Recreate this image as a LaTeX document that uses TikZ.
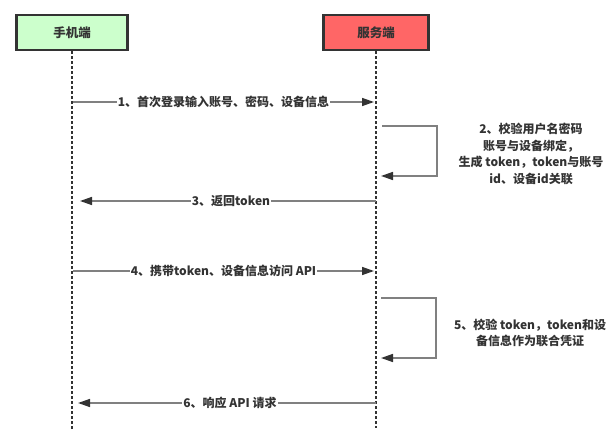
\documentclass[tikz,border=0pt]{standalone}
\usepackage{fontspec}
\setmainfont{Noto Sans CJK SC}
\usetikzlibrary{arrows.meta}
\definecolor{lg}{HTML}{CCFFCC}
\definecolor{lr}{HTML}{FF6666}
\definecolor{dk}{HTML}{333333}
\definecolor{ln}{HTML}{808080}
\begin{document}
\begin{tikzpicture}[x=1pt,y=-1pt,
  actor/.style={draw=dk, line width=2.2pt, minimum height=35pt, inner sep=0pt,
    font=\fontsize{12.5}{14}\selectfont\bfseries, text=dk},
  life/.style={draw=dk, line width=1.8pt, dash pattern=on 2.5pt off 2.5pt},
  msg/.style={draw=ln, line width=1.5pt, -{Triangle[length=12pt,width=8pt,color=dk]}},
  lbl/.style={fill=white, inner sep=1pt, text=dk, font=\fontsize{12}{16}\selectfont\bfseries},
  note/.style={text=dk, align=center, inner sep=0pt, font=\fontsize{12}{16.5}\selectfont\bfseries}
]
\useasboundingbox (0,0) rectangle (615,443);
\node[actor, fill=lg, minimum width=111pt] (c) at (72,32.5) {手机端};
\node[actor, fill=lr, minimum width=105pt] (s) at (376,32.5) {服务端};
\coordinate (cend) at (72,430);
\coordinate (send) at (376,428);
\draw[life] (c.south) -- (cend);
\draw[life] (s.south) -- (send);
% message 1
\coordinate (c1) at (73,102);
\coordinate (s1) at (374,102);
\draw[msg] (c1) -- node[lbl] {1、首次登录输入账号、密码、设备信息} (s1);
% self 2
\coordinate (s2a) at (382,126);
\coordinate (s2b) at (381,176);
\draw[msg] (s2a) -- ++(55,0) |- (s2b);
\node[note] (n2) at (531,154) {2、校验用户名密码\\账号与设备绑定，\\生成 token，token与账号\\id、设备id关联};
% message 3
\coordinate (s3) at (376,201);
\coordinate (c3) at (80,201);
\draw[msg] (s3) -- node[lbl, pos=0.49] {3、返回token} (c3);
% message 4
\coordinate (c4) at (73,271);
\coordinate (s4) at (374,271);
\draw[msg] (c4) -- node[lbl] {4、携带token、设备信息访问 API} (s4);
% self 5
\coordinate (s5a) at (381,298);
\coordinate (s5b) at (381,358);
\draw[msg] (s5a) -- ++(55,0) |- (s5b);
\node[note] (n5) at (530,333) {5、校验 token，token和设\\备信息作为联合凭证};
% message 6
\coordinate (s6) at (376,403);
\coordinate (c6) at (78,403);
\draw[msg] (s6) -- node[lbl, pos=0.49] {6、响应 API 请求} (c6);
\end{tikzpicture}
\end{document}
